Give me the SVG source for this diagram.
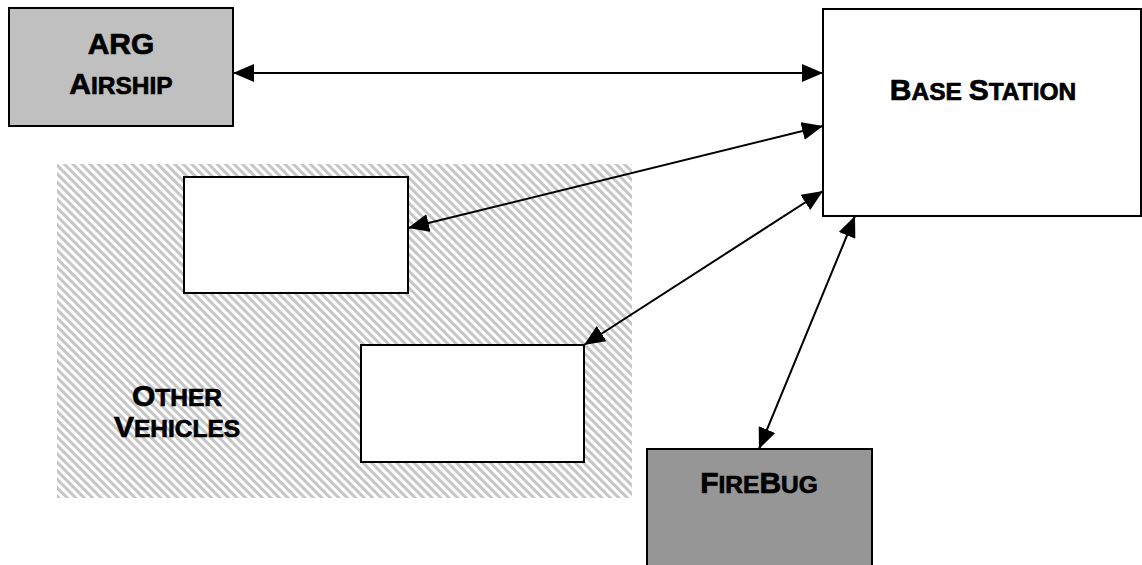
<svg xmlns="http://www.w3.org/2000/svg" width="1142" height="565" viewBox="0 0 1142 565">
  <style>
    .box { stroke: #000; stroke-width: 2; }
    .lbl { font-family: "Liberation Sans", Arial, sans-serif; font-weight: bold; font-size: 30px; fill: #000; stroke: #000; stroke-width: 0.7; text-anchor: middle; }
    .sm { font-size: 24.5px; }
    .link { stroke: #000; stroke-width: 2; fill: none; marker-start: url(#head); marker-end: url(#head); }
  </style>
  <defs>
    <pattern id="hatch" width="6" height="6" patternUnits="userSpaceOnUse" patternTransform="rotate(-45)">
      <rect width="6" height="6" fill="#fff"/>
      <rect x="0" y="0" width="3" height="6" fill="#c6c6c6"/>
    </pattern>
    <marker id="head" markerUnits="userSpaceOnUse" markerWidth="21" markerHeight="18" refX="21" refY="9" orient="auto-start-reverse">
      <path d="M0,0 L21,9 L0,18 z" fill="#000"/>
    </marker>
  </defs>

  <rect width="1142" height="565" fill="#fff"/>

  <!-- other vehicles area -->
  <g id="other-vehicles">
    <rect x="57" y="164" width="575" height="334" fill="url(#hatch)"/>
    <text class="lbl" x="177" y="406">O<tspan class="sm">THER</tspan></text>
    <text class="lbl" x="177" y="437">V<tspan class="sm">EHICLES</tspan></text>
  </g>

  <g id="vehicle-1">
    <rect class="box" x="184" y="177" width="224" height="116" fill="#fff"/>
  </g>

  <g id="vehicle-2">
    <rect class="box" x="361" y="345" width="223" height="117" fill="#fff"/>
  </g>

  <g id="arg-airship">
    <rect class="box" x="9" y="8" width="224" height="118" fill="#c0c0c0"/>
    <text class="lbl" x="121" y="54">ARG</text>
    <text class="lbl" x="121" y="94">A<tspan class="sm">IRSHIP</tspan></text>
  </g>

  <g id="base-station">
    <rect class="box" x="823" y="9" width="318" height="207" fill="#fff"/>
    <text class="lbl" x="983" y="100">B<tspan class="sm">ASE </tspan>S<tspan class="sm">TATION</tspan></text>
  </g>

  <g id="firebug">
    <rect class="box" x="647" y="449" width="225" height="125" fill="#969696"/>
    <text class="lbl" x="759" y="493">F<tspan class="sm">IRE</tspan>B<tspan class="sm">UG</tspan></text>
  </g>

  <!-- two-way links to the base station -->
  <g id="connectors">
    <line class="link" x1="233" y1="73" x2="823" y2="73"/>
    <line class="link" x1="408" y1="228" x2="823" y2="126"/>
    <line class="link" x1="584" y1="345" x2="823" y2="191"/>
    <line class="link" x1="759" y1="449" x2="855" y2="216"/>
  </g>
</svg>
